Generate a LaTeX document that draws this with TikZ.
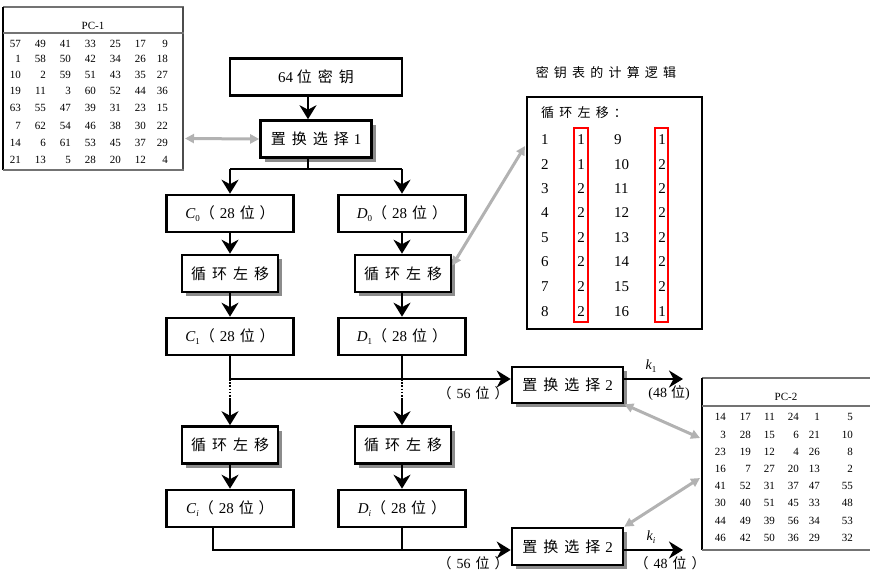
\documentclass[tikz,border=0pt]{standalone}
\usepackage{fontspec}
\setmainfont{Liberation Serif}
\newfontfamily\cjk[LetterSpace=40]{Noto Sans CJK SC}
\newfontfamily\cjkp{Noto Sans CJK SC}
\usetikzlibrary{arrows.meta,shadows}
\newcommand\Vsub[2]{{\itshape #1}\raisebox{-3pt}{\fontsize{9}{9}\selectfont\itshape #2}}
\newcommand\Nsub[2]{{\itshape #1}\raisebox{-3pt}{\fontsize{9}{9}\selectfont #2}}
\newcommand\Bits[1]{{\cjkp （}\hspace{5pt}#1\hspace{5pt}{\cjkp 位}\hspace{5pt}{\cjkp ）}}
\tikzset{
  bx/.style={draw, line width=2.6pt, minimum height=37pt, inner sep=0pt, fill=white,
    font=\fontsize{15}{16}\selectfont},
  sbx/.style={bx, drop shadow={shadow xshift=4pt, shadow yshift=-4pt, fill=black!45, opacity=1}},
  ar/.style={line width=2.4pt, -{Stealth[length=14pt,width=17pt,inset=4.5pt]}},
  ln/.style={line width=2.4pt},
  dotln/.style={line width=2.4pt, dash pattern=on 1.6pt off 1.6pt},
  gar/.style={line width=3pt, draw=black!30,
    {Triangle[length=9pt,width=9pt]}-{Triangle[length=9pt,width=9pt]}},
  num/.style={font=\fontsize{11}{12}\selectfont, inner sep=0pt, anchor=east},
  knum/.style={font=\fontsize{15}{16}\selectfont, inner sep=0pt},
  lbl/.style={font=\fontsize{14}{15}\selectfont, inner sep=0pt},
  tline/.style={line width=2pt, draw=black!55},
  redbox/.style={draw=red, line width=2pt},
}
\begin{document}
\begin{tikzpicture}[x=1pt,y=-1pt]
\useasboundingbox (0,0) rectangle (870,581);

% ---------- PC-1 table ----------
\draw[tline] (3,7) -- (184,7);
\draw[line width=1.4pt] (3,7) -- (3,170);
\draw[line width=1.4pt, draw=black!70] (183,7) -- (183,170);
\draw[tline, line width=2.6pt] (3,33) -- (184,33);
\draw[tline] (3,170) -- (184,170);
\node[font=\fontsize{11}{12}\selectfont, inner sep=0pt] (pc1t) at (93,26) {PC-1};
\foreach \row [count=\r from 0] in {
  {57,49,41,33,25,17,9},
  {1,58,50,42,34,26,18},
  {10,2,59,51,43,35,27},
  {19,11,3,60,52,44,36},
  {63,55,47,39,31,23,15},
  {7,62,54,46,38,30,22},
  {14,6,61,53,45,37,29},
  {21,13,5,28,20,12,4}}{
  \pgfmathsetmacro\yy{{44,59,75,91,108,126,143,160}[\r]}
  \foreach \v [count=\c from 0] in \row {
    \pgfmathsetmacro\xx{{21,46,71,96,121,146,168}[\c]}
    \node[num] at (\xx,\yy) {\v};
  }
}

% ---------- PC-2 table ----------
\draw[tline] (702,378) -- (870,378);
\draw[line width=1.4pt] (702,378) -- (702,550);
\draw[tline, line width=2.6pt] (702,406) -- (870,406);
\draw[tline] (702,550) -- (870,550);
\node[font=\fontsize{11}{12}\selectfont, inner sep=0pt] (pc2t) at (786,397) {PC-2};
\foreach \row [count=\r from 0] in {
  {14,17,11,24,1,5},
  {3,28,15,6,21,10},
  {23,19,12,4,26,8},
  {16,7,27,20,13,2},
  {41,52,31,37,47,55},
  {30,40,51,45,33,48},
  {44,49,39,56,34,53},
  {46,42,50,36,29,32}}{
  \pgfmathsetmacro\yy{{417,435,452,469,486,503,521,538}[\r]}
  \foreach \v [count=\c from 0] in \row {
    \pgfmathsetmacro\xx{{726,751,775,799,820,853}[\c]}
    \node[num] at (\xx,\yy) {\v};
  }
}

% ---------- key-schedule table ----------
\node[font=\fontsize{13}{14}\selectfont\cjk, inner sep=0pt] (ktitle) at (606,73) {密钥表的计算逻辑};
\node[draw, line width=2.6pt, minimum width=175pt, minimum height=232pt, inner sep=0pt] (kbox) at (614.5,213) {};
\node[font=\fontsize{13}{14}\selectfont\cjk, inner sep=0pt, anchor=west] (khead) at (541,113) {循环左移：};
\foreach \a/\b/\c/\d [count=\r from 0] in {1/1/9/1,2/1/10/2,3/2/11/2,4/2/12/2,5/2/13/2,6/2/14/2,7/2/15/2,8/2/16/1}{
  \pgfmathsetmacro\yy{{140,165,189,213,238,262,287,312}[\r]}
  \node[knum, anchor=west] at (541,\yy) {\a};
  \node[knum] at (581,\yy) {\b};
  \node[knum, anchor=west] at (614,\yy) {\c};
  \node[knum] at (662,\yy) {\d};
}
\draw[redbox] (574,128) rectangle (588,322);
\draw[redbox] (655,128) rectangle (668,322);

% ---------- main flow ----------
\node[bx, minimum width=172pt] (key) at (316,77) {64\ {\cjk 位密钥}};
\node[sbx, minimum width=111pt] (ps1) at (316,139) {{\cjk 置换选择}\hspace{5pt}1};
\node[bx, minimum width=127pt] (c0) at (230,213.5) {\Nsub{C}{0}\Bits{28}};
\node[bx, minimum width=127pt] (d0) at (402,213.5) {\Nsub{D}{0}\Bits{28}};
\node[sbx, minimum width=96pt] (lc1) at (230,273.5) {\cjk 循环左移};
\node[sbx, minimum width=96pt] (ld1) at (403,273.5) {\cjk 循环左移};
\node[bx, minimum width=127pt] (c1) at (230,336.5) {\Nsub{C}{1}\Bits{28}};
\node[bx, minimum width=127pt] (d1) at (402,336.5) {\Nsub{D}{1}\Bits{28}};
\node[sbx, minimum width=96pt] (lc2) at (230,445) {\cjk 循环左移};
\node[sbx, minimum width=96pt] (ld2) at (403,445) {\cjk 循环左移};
\node[bx, minimum width=127pt] (ci) at (230,508.5) {\Vsub{C}{i}\Bits{28}};
\node[bx, minimum width=127pt] (di) at (402,508.5) {\Vsub{D}{i}\Bits{28}};
\node[sbx, minimum width=111pt, minimum height=36pt] (ps2a) at (567.5,385) {{\cjk 置换选择}\hspace{5pt}2};
\node[sbx, minimum width=111pt] (ps2b) at (567.5,546.5) {{\cjk 置换选择}\hspace{5pt}2};

\coordinate (j0) at (308,169);
\coordinate (h1) at (0,379);
\coordinate (h2) at (0,400);
\coordinate (b1) at (213,550);
\coordinate (o1) at (683,379);
\coordinate (o2) at (683,550);

\draw[ar] (key.south -| j0) -- (ps1.north -| j0);
\draw[ln] (ps1.south -| j0) -- (j0);
\draw[ln] (j0 -| c0) -- (j0 -| d0);
\draw[ar] (j0 -| c0) -- (c0);
\draw[ar] (j0 -| d0) -- (d0);
\draw[ar] (c0) -- (lc1);
\draw[ar] (d0) -- (d0 |- ld1.north);
\draw[ar] (lc1) -- (c1);
\draw[ar] (d1 |- ld1.south) -- (d1);
\draw[ar] (c1.south) |- (ps2a.west |- h1);
\draw[ln] (d1.south) -- (d1 |- h1);
\draw[dotln] (c1 |- h1) -- (c1 |- h2);
\draw[dotln] (d1 |- h1) -- (d1 |- h2);
\draw[ar] (c1 |- h2) -- (lc2);
\draw[ar] (d1 |- h2) -- (d1 |- ld2.north);
\draw[ar] (lc2) -- (ci);
\draw[ar] (di |- ld2.south) -- (di);
\draw[ar] (ci.south -| b1) -- (b1) -- (ps2b.west |- b1);
\draw[ln] (di.south) -- (di |- b1);
\draw[ar] (ps2a.east |- h1) -- (o1);
\draw[ar] (ps2b.east |- b1) -- (o2);

% labels
\node[lbl] (l56a) at (473,393) {\Bits{56}};
\node[lbl] (l56b) at (473,563) {\Bits{56}};
\node[lbl] (k1) at (651,366) {\Nsub{k}{1}};
\node[lbl] (ki) at (651,537) {\Vsub{k}{i}};
\node[lbl] (l48a) at (669,393) {(48\hspace{4pt}{\cjkp 位})};
\node[lbl] (l48b) at (670,563) {\Bits{48}};

% gray double arrows
\coordinate (pc1r) at (185,138.5);
\coordinate (kl) at (525,146);
\coordinate (pc2a) at (700,438);
\coordinate (pc2b) at (700,478);
\draw[gar] (pc1r) -- (ps1.west);
\draw[gar] ([yshift=8pt]ld1.east) -- (kl);
\draw[gar] (ps2a.south east) -- (pc2a);
\draw[gar] (ps2b.north east) -- (pc2b);
\end{tikzpicture}
\end{document}
